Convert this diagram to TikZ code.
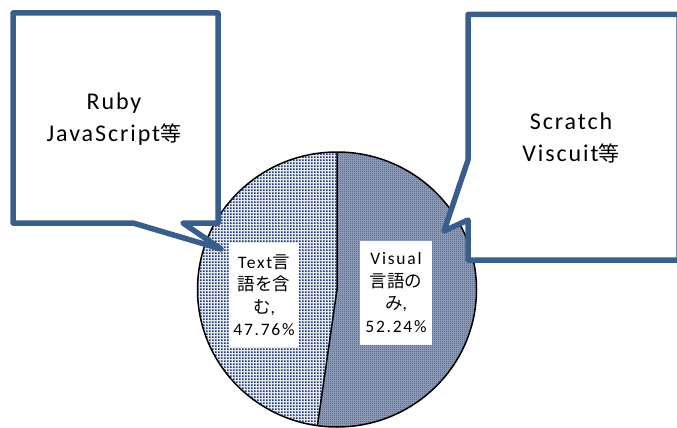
\documentclass[tikz,border=0pt]{standalone}
\usepackage{fontspec}
\setmainfont{Carlito}
\newfontfamily\cjk{Noto Sans CJK JP}
\usetikzlibrary{patterns.meta}

\definecolor{callblue}{HTML}{3A5E8C}
\definecolor{pienavy}{HTML}{1F3B70}

\tikzdeclarepattern{
  name=finecheck,
  type=uncolored,
  bounding box={(0pt,0pt) and (2pt,2pt)},
  tile size={(2pt,2pt)},
  code={\fill (0pt,0pt) rectangle (1pt,1pt); \fill (1pt,1pt) rectangle (2pt,2pt);}
}
\tikzdeclarepattern{
  name=finedots,
  type=uncolored,
  bounding box={(0pt,0pt) and (3.4pt,3.4pt)},
  tile size={(3.4pt,3.4pt)},
  code={\fill (0pt,0pt) rectangle (2pt,2pt);}
}

\newcommand\jl[1]{{\cjk\fontsize{17.5}{22.5}\selectfont #1}}
\newcommand\jc[1]{{\cjk\fontsize{21}{32}\selectfont #1}}

\tikzset{
  callout/.style={draw=callblue, line width=5.5pt, fill=white, line join=round},
  labbox/.style={fill=white, inner sep=0pt, minimum width=70pt, minimum height=104pt, align=center,
    font=\fontsize{17.5}{22.5}\selectfont\addfontfeature{LetterSpace=10}},
  ctext/.style={inner sep=0pt, align=center,
    font=\fontsize{24}{32}\selectfont\addfontfeature{LetterSpace=8}},
  pieline/.style={draw=black, line width=1.5pt}
}

\begin{document}
\begin{tikzpicture}[x=1pt,y=1pt]
\useasboundingbox (0,0) rectangle (677,-428);

% pie
\coordinate (C) at (337,-289.5);
\coordinate (top) at (337,-152);
\coordinate (bot) at (317.44,-425.64);
\fill[pienavy!12!white] (C) -- (top)
  arc[start angle=90, end angle=261.94, x radius=139.5, y radius=137.5] -- cycle;
\fill[pattern=finedots, pattern color=pienavy] (C) -- (top)
  arc[start angle=90, end angle=261.94, x radius=139.5, y radius=137.5] -- cycle;
\fill[pienavy!45!white] (C) -- (top)
  arc[start angle=90, end angle=-98.06, x radius=139.5, y radius=137.5] -- cycle;
\fill[pattern=finecheck, pattern color=pienavy] (C) -- (top)
  arc[start angle=90, end angle=-98.06, x radius=139.5, y radius=137.5] -- cycle;
\draw[pieline] (C) ellipse [x radius=139.5, y radius=137.5];
\draw[pieline] (top) -- (C) -- (bot);

% slice labels
\node[labbox] (tl) at (264,-295) {Text\jl{言}\\\jl{語を含}\\\jl{む},\\47.76\%};
\node[labbox, minimum width=72pt] (vl) at (396,-292.5) {Visual\\\jl{言語の}\\\jl{み},\\52.24\%};

% callouts
\draw[callout] (13,-13) -- (218,-13) -- (218,-223) -- (183,-223) -- (221,-249)
  -- (133,-223) -- (13,-223) -- cycle;
\draw[callout] (468,-14.5) -- (679,-14.5) -- (679,-260) -- (468,-260) -- (468,-220)
  -- (444,-231) -- (468,-160) -- cycle;

\node[ctext] (ltxt) at (114,-119) {Ruby\\JavaScript\jc{等}};
\node[ctext] (rtxt) at (571,-138) {Scratch\\Viscuit\jc{等}};
\end{tikzpicture}
\end{document}
